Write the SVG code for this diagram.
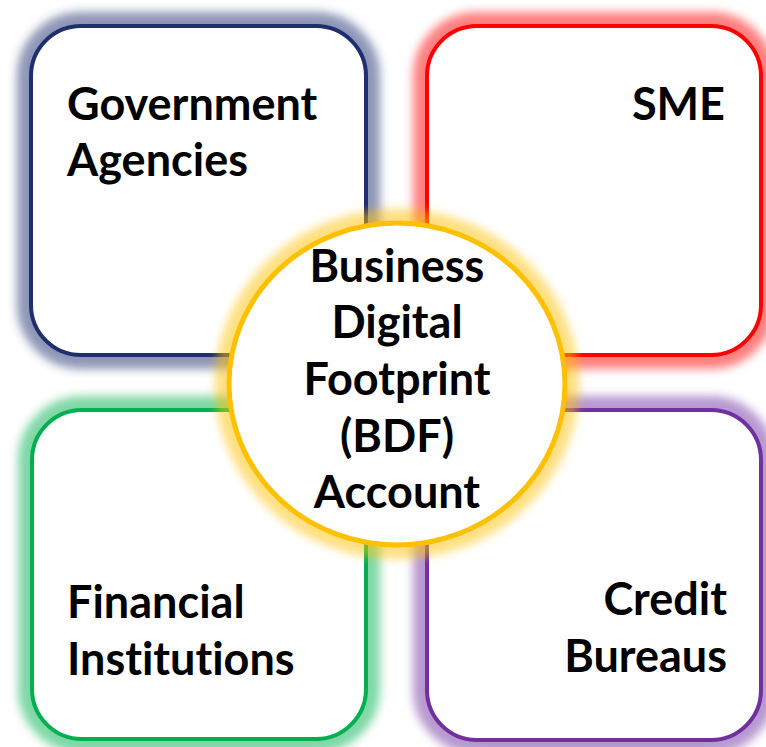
<svg xmlns="http://www.w3.org/2000/svg" width="766" height="747" viewBox="0 0 766 747">
  <defs>
    <!-- soft halo used behind every shape -->
    <filter id="glow" x="-20%" y="-20%" width="140%" height="140%">
      <feGaussianBlur stdDeviation="5"/>
    </filter>
    <style>
      .halo { fill: none; stroke-width: 28; opacity: 0.5; filter: url(#glow); }
      .box { fill: #FFFFFF; stroke-width: 4; }
      .label { font-family: Lato, "Open Sans", "Liberation Sans", sans-serif; font-weight: 700; font-size: 45px; fill: #000000; font-variant-ligatures: none; }
      .start { text-anchor: start; }
      .end { text-anchor: end; }
      .mid { text-anchor: middle; }
    </style>
  </defs>

  <rect width="766" height="747" fill="#FFFFFF"/>

  <!-- halos -->
  <g id="halos">
    <rect class="halo" x="31" y="26" width="335" height="329" rx="50" stroke="#1F2F6E"/>
    <rect class="halo" x="427" y="26" width="334" height="329" rx="50" stroke="#FF0000"/>
    <rect class="halo" x="32" y="410" width="334" height="329" rx="50" stroke="#00B050"/>
    <rect class="halo" x="427" y="410" width="334" height="330" rx="50" stroke="#7030A0"/>
  </g>

  <g id="government-agencies">
    <rect class="box" x="31" y="26" width="335" height="329" rx="50" stroke="#1F2F6E"/>
    <text class="label start" x="67" y="120">Government</text>
    <text class="label start" x="67" y="176">Agencies</text>
  </g>

  <g id="sme">
    <rect class="box" x="427" y="26" width="334" height="329" rx="50" stroke="#FF0000"/>
    <text class="label end" x="725" y="120">SME</text>
  </g>

  <g id="financial-institutions">
    <rect class="box" x="32" y="410" width="334" height="329" rx="50" stroke="#00B050"/>
    <text class="label start" x="67" y="618">Financial</text>
    <text class="label start" x="67" y="675">Institutions</text>
  </g>

  <g id="credit-bureaus">
    <rect class="box" x="427" y="410" width="334" height="330" rx="50" stroke="#7030A0"/>
    <text class="label end" x="727" y="615">Credit</text>
    <text class="label end" x="727" y="672">Bureaus</text>
  </g>

  <g id="connectors"></g>

  <g id="bdf-account">
    <ellipse class="halo" cx="397" cy="384" rx="168" ry="161" stroke="#FFC000"/>
    <ellipse cx="397" cy="384" rx="168" ry="161" fill="#FFFFFF" stroke="#FFC000" stroke-width="5"/>
    <text class="label mid" x="397" y="282">Business</text>
    <text class="label mid" x="397" y="338">Digital</text>
    <text class="label mid" x="397" y="395">Footprint</text>
    <text class="label mid" x="397" y="452">(BDF)</text>
    <text class="label mid" x="397" y="508">Account</text>
  </g>
</svg>
